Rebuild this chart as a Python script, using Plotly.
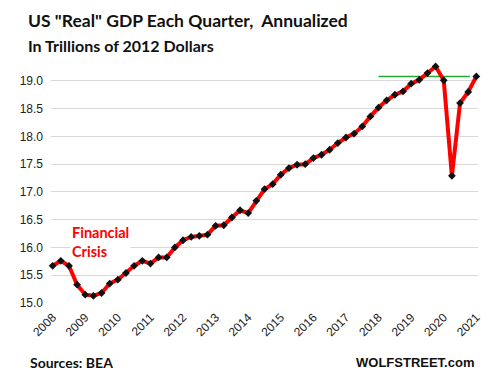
import plotly.graph_objects as go

# ---- data ----
years = list(range(2008, 2022))
quarters = [f"{y}Q{q}" for y in range(2008, 2021) for q in range(1, 5)] + ["2021Q1"]
gdp = [
    15.67, 15.76, 15.67, 15.33,   # 2008
    15.15, 15.13, 15.18, 15.35,   # 2009
    15.42, 15.54, 15.67, 15.76,   # 2010
    15.71, 15.82, 15.82, 16.00,   # 2011
    16.13, 16.19, 16.21, 16.23,   # 2012
    16.39, 16.40, 16.54, 16.67,   # 2013
    16.62, 16.84, 17.05, 17.14,   # 2014
    17.31, 17.43, 17.49, 17.50,   # 2015
    17.61, 17.67, 17.76, 17.88,   # 2016
    17.98, 18.05, 18.18, 18.36,   # 2017
    18.52, 18.65, 18.75, 18.81,   # 2018
    18.95, 19.02, 19.14, 19.26,   # 2019
    19.01, 17.29, 18.60, 18.80,   # 2020
    19.08,                        # 2021
]
tick_labels = [str(y) for y in years]
y_ticks = [15.0, 15.5, 16.0, 16.5, 17.0, 17.5, 18.0, 18.5, 19.0]
ref_line_span = [2018.0, 2020.8]   # green reference line at latest level

x_vals = [int(q[:4]) + (int(q[-1]) - 1) / 4 for q in quarters]

FONT = "Lato"

fig = go.Figure()
fig.add_trace(go.Scatter(
    x=x_vals, y=gdp, mode="lines+markers",
    line=dict(color="#ff0000", width=4),
    marker=dict(color="#111111", size=6, symbol="diamond"),
    cliponaxis=False, showlegend=False,
))

fig.add_shape(type="line", xref="x", yref="y",
              x0=ref_line_span[0], x1=ref_line_span[1],
              y0=gdp[-1], y1=gdp[-1],
              line=dict(color="#22aa33", width=1.5), layer="below")

fig.update_layout(
    width=490, height=385,
    margin=dict(l=37, r=20, t=54, b=90),
    paper_bgcolor="white", plot_bgcolor="white",
    font=dict(family=FONT, color="#111111"),
    xaxis=dict(
        range=[2007.949, 2021.051], tickvals=years, ticktext=tick_labels,
        tickangle=-45, showgrid=False, zeroline=False, showline=False,
        ticklabelstandoff=4,
        tickfont=dict(family="Liberation Sans", size=12, color="#222222"),
    ),
    yaxis=dict(
        range=[15.0, 19.34], tickvals=y_ticks, tickformat=".1f",
        showgrid=True, gridcolor="#d9d9d9", gridwidth=1,
        zeroline=False, showline=False, ticklabelstandoff=7,
        tickfont=dict(family="Liberation Sans", size=12, color="#222222"),
    ),
)

# positions below are window pixels; plot area spans x 45..478, y 62..303
def px_x(p):
    return (p - 45) / 433.0

def px_y(p):
    return (303.0 - p) / 241.0

annos = [
    dict(text='<b>US "Real" GDP Each Quarter,\u00a0 Annualized</b>', x=px_x(20), y=px_y(21),
         xanchor="left", yanchor="middle", font=dict(size=17.5, color="#111111")),
    dict(text="<b>In Trillions of 2012 Dollars</b>", x=px_x(20), y=px_y(45),
         xanchor="left", yanchor="middle", font=dict(size=16, color="#111111")),
    dict(text="<b>Financial<br>Crisis</b>", x=px_x(64), y=px_y(241.7),
         xanchor="left", yanchor="middle", align="left", bgcolor="white",
         font=dict(size=14.5, color="#ff0000")),
    dict(text="<b>Sources: BEA</b>", x=px_x(22), y=px_y(362.5),
         xanchor="left", yanchor="middle", font=dict(size=14, color="#111111")),
    dict(text="<b>WOLFSTREET.com</b>", x=px_x(476), y=px_y(362.5),
         xanchor="right", yanchor="middle",
         font=dict(family="Liberation Sans", size=13, color="#111111")),
]
for a in annos:
    fig.add_annotation(xref="paper", yref="paper", showarrow=False, **a)

fig.write_html("out.html")
